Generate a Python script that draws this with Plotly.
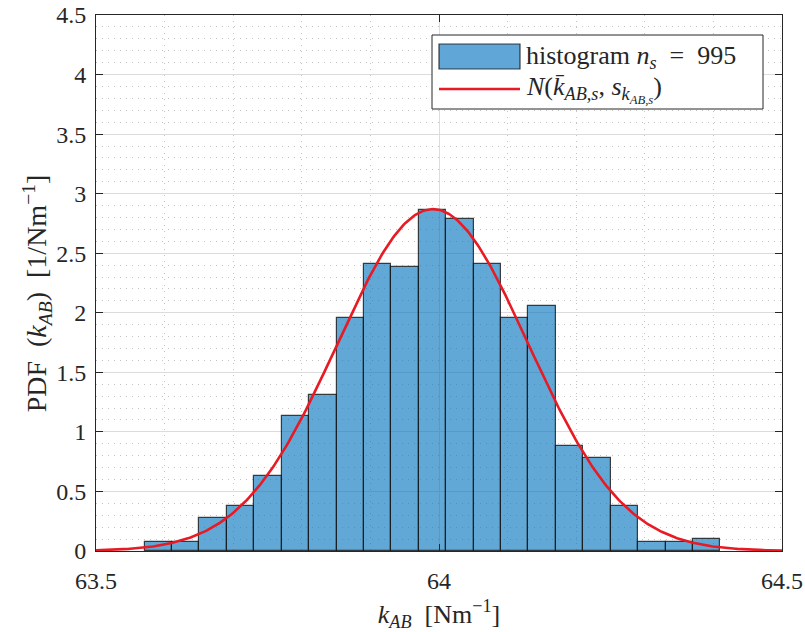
import numpy as np
import plotly.graph_objects as go

# ---- data ----
bin_start = 63.5708
bin_width = 0.03997
pdf_values = [0.075, 0.075, 0.276, 0.377, 0.628, 1.131, 1.307, 1.960, 2.412, 2.387,
              2.865, 2.789, 2.412, 1.960, 2.060, 0.880, 0.779, 0.377, 0.075, 0.075, 0.100]
n_samples = 995
fit_mean = 63.991
fit_std = 0.139
x_ticks = [63.5, 64, 64.5]
x_ticklabels = ["63.5", "64", "64.5"]
y_ticks = [0, 0.5, 1, 1.5, 2, 2.5, 3, 3.5, 4, 4.5]
y_ticklabels = ["0", "0.5", "1", "1.5", "2", "2.5", "3", "3.5", "4", "4.5"]

centers = [bin_start + bin_width * (i + 0.5) for i in range(len(pdf_values))]
xc = np.linspace(63.5, 64.5, 400)
yc = np.exp(-0.5 * ((xc - fit_mean) / fit_std) ** 2) / (fit_std * np.sqrt(2 * np.pi))

FONT = "Liberation Serif, serif"
TXT = "#262626"
MINOR = dict(dtick=0.1, showgrid=True, gridcolor="#c4c4c4", griddash="1px,5px", gridwidth=1, ticks="")

fig = go.Figure()
fig.add_trace(go.Bar(
    x=centers, y=pdf_values, width=bin_width,
    marker=dict(color="rgba(0,114,189,0.62)", line=dict(color="rgba(20,20,20,0.8)", width=1.2)),
    name="histogram", showlegend=False,
))
fig.add_trace(go.Scatter(
    x=xc, y=yc, mode="lines", line=dict(color="rgb(232,26,36)", width=2.6),
    name="normal", showlegend=False,
))

axis_common = dict(
    showline=True, linecolor=TXT, linewidth=1, mirror="allticks",
    ticks="inside", ticklen=7, tickcolor=TXT, tickwidth=1,
    showgrid=True, gridcolor="#dcdcdc", gridwidth=1,
    zeroline=False,
    tickfont=dict(family=FONT, size=24, color=TXT),
)
fig.update_xaxes(
    range=[63.5, 64.5], tickvals=x_ticks, ticktext=x_ticklabels,
    minor=MINOR,
    title=dict(text="<i>k</i><sub><i>AB</i></sub>  [Nm<sup>−1</sup>]",
               font=dict(family=FONT, size=26, color=TXT), standoff=12),
    ticklabelstandoff=8,
    **axis_common,
)
fig.update_yaxes(
    range=[0, 4.5], tickvals=y_ticks, ticktext=y_ticklabels,
    minor=MINOR,
    title=dict(text="PDF&nbsp;&nbsp;(<i>k</i><sub><i>AB</i></sub>)&nbsp;&nbsp;[1/Nm<sup>−1</sup>]&nbsp;&nbsp;&nbsp;",
               font=dict(family=FONT, size=28, color=TXT), standoff=0),
    ticklabelstandoff=4,
    **axis_common,
)

# ---- legend drawn manually (wide swatch as in reference) ----
def px(xp):
    return (xp - 96) / 686
def py(yp):
    return (551 - yp) / 536

shapes = [
    dict(type="rect", xref="paper", yref="paper", x0=px(432), x1=px(763), y0=py(109), y1=py(35),
         fillcolor="white", line=dict(color=TXT, width=1), layer="above"),
    dict(type="rect", xref="paper", yref="paper", x0=px(439), x1=px(520), y0=py(69), y1=py(44),
         fillcolor="rgb(96,166,214)", line=dict(color="rgba(20,20,20,0.8)", width=1.2), layer="above"),
    dict(type="line", xref="paper", yref="paper", x0=px(439), x1=px(520), y0=py(89), y1=py(89),
         line=dict(color="rgb(232,26,36)", width=2.6), layer="above"),
]
annotations = [
    dict(xref="paper", yref="paper", x=px(524), y=py(57), xanchor="left", yanchor="middle",
         text="histogram <i>n</i><sub><i>s</i></sub>&nbsp;&nbsp;=&nbsp;&nbsp;%d" % n_samples, showarrow=False,
         font=dict(family=FONT, size=26, color=TXT)),
    dict(xref="paper", yref="paper", x=px(524), y=py(89), xanchor="left", yanchor="middle",
         text="<i>N</i>(<i>k̄</i><sub><i>AB,s</i></sub>,&nbsp;<i>s</i><sub><i>k</i><sub><i>AB,s</i></sub></sub>)",
         showarrow=False, font=dict(family=FONT, size=26, color=TXT)),
]

fig.update_layout(
    width=805, height=632,
    margin=dict(l=96, r=23, t=15, b=81, autoexpand=False),
    plot_bgcolor="white", paper_bgcolor="white",
    bargap=0, showlegend=False,
    shapes=shapes, annotations=annotations,
    font=dict(family=FONT, color=TXT),
)
fig.write_html("out.html")
